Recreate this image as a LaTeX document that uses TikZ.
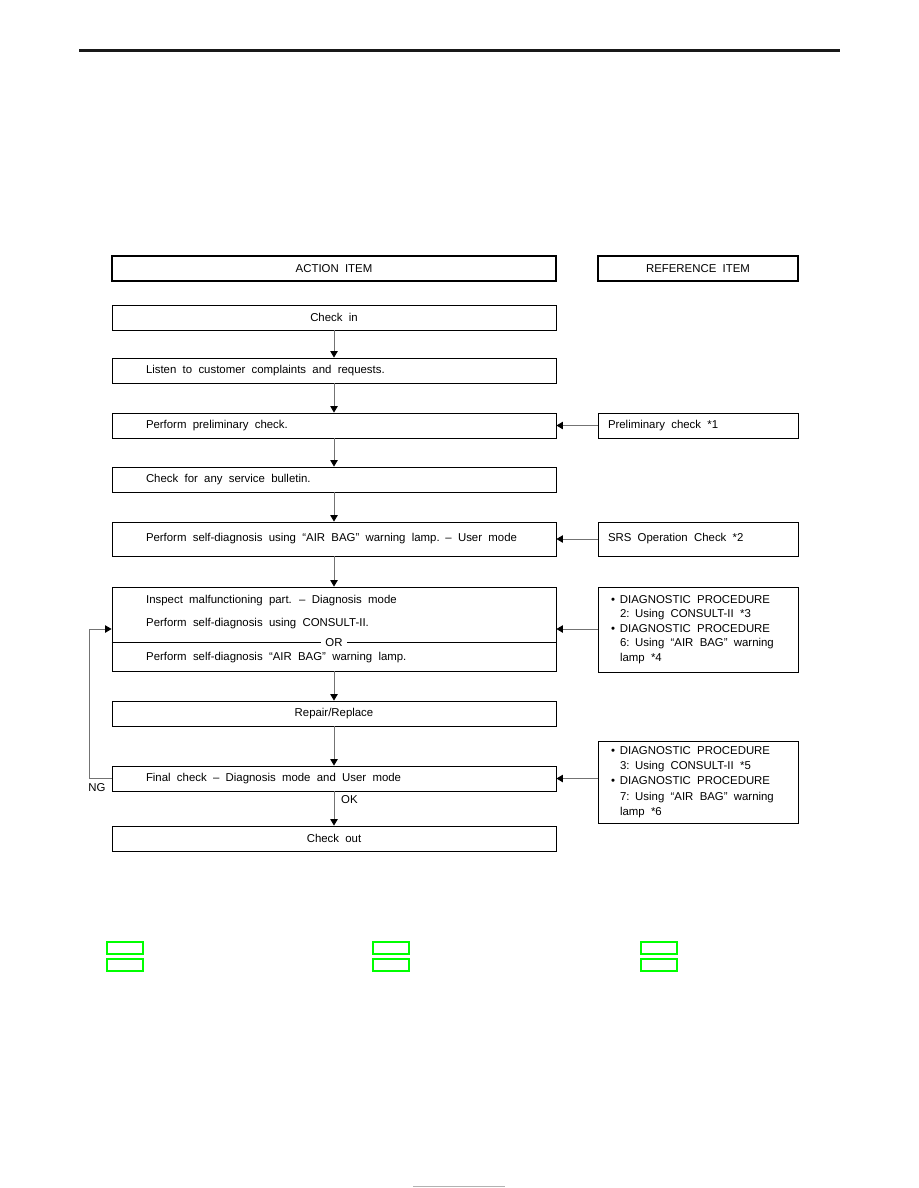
\documentclass[tikz,border=0pt]{standalone}
\usepackage{fontspec}
\setmainfont{Liberation Sans}
\usetikzlibrary{arrows.meta}
\newcommand{\wordgap}{\spaceskip=6.3pt plus 1pt minus 1pt\relax}
\newcommand{\refdot}{\hspace*{3pt}\textbullet\hspace{5pt}}
\tikzset{
  act/.style={draw, line width=0.9pt, minimum width=444pt, minimum height=25pt, inner sep=0pt, font=\fontsize{11.4}{13}\selectfont, execute at begin node=\wordgap},
  actleft/.style={act, align=left, text width=376pt, inner xsep=34pt},
  head/.style={act, line width=1.6pt, minimum width=444pt},
  refbox/.style={draw, line width=0.9pt, minimum width=200pt, minimum height=25pt, inner ysep=0pt, inner xsep=10pt, text width=180pt, align=left, font=\fontsize{11.4}{14.4}\selectfont, execute at begin node=\wordgap},
  flow/.style={draw=black!55, line width=0.9pt, -{Triangle[length=6.5pt,width=7.5pt,color=black]}},
  tag/.style={font=\fontsize{11.4}{13}\selectfont, inner sep=1pt, execute at begin node=\wordgap},
  lampbox/.style={draw=green, line width=1.4pt}
}
\begin{document}
\begin{tikzpicture}[x=1pt, y=-1pt]
\useasboundingbox (0,0) rectangle (918,1188);
\draw[line width=3pt, black!90] (79,51) -- (840,51);

% headings
\node[head] (acthead) at (334,268.5) {ACTION ITEM};
\node[head, minimum width=200pt] (refhead) at (698,268.5) {REFERENCE ITEM};

% action items
\node[act] (checkin) at (334,317.5) {Check in};
\node[actleft] (listen) at (334,370.5) {Listen to customer complaints and requests.};
\node[actleft] (prelim) at (334,425.5) {Perform preliminary check.};
\node[actleft] (bulletin) at (334,479.5) {Check for any service bulletin.};
\node[actleft, minimum height=34pt] (usermode) at (334,539) {Perform self-diagnosis using “AIR BAG” warning lamp. – User mode};
\node[act, minimum height=84pt] (inspect) at (334,629) {};
\node[tag, anchor=west] (inspecttxt) at (145,601) {Inspect malfunctioning part. – Diagnosis mode};
\node[tag, anchor=west] (consulttxt) at (145,624) {Perform self-diagnosis using CONSULT-II.};
\node[tag, anchor=west] (lamptxt) at (145,658) {Perform self-diagnosis “AIR BAG” warning lamp.};
\draw[line width=0.6pt] (inspect.west |- 0,642) -- (inspect.east |- 0,642);
\node[tag, fill=white, inner xsep=4pt] (ortxt) at (334,642.5) {OR};
\node[act] (repair) at (334,713.5) {Repair/Replace};
\node[actleft] (final) at (334,778.5) {Final check – Diagnosis mode and User mode};
\node[act] (checkout) at (334,838.5) {Check out};

% reference items
\node[refbox] (prelimref) at (698,425.5) {Preliminary check *1};
\node[refbox, minimum height=34pt] (srsref) at (698,539) {SRS Operation Check *2};
\node[refbox, minimum height=85pt] (diagref) at (698,629.5) {\refdot DIAGNOSTIC PROCEDURE\\\hspace*{12pt}2: Using CONSULT-II *3\\\refdot DIAGNOSTIC PROCEDURE\\\hspace*{12pt}6: Using “AIR BAG” warning\\\hspace*{12pt}lamp *4};
\node[refbox, minimum height=82pt, font=\fontsize{11.4}{15.4}\selectfont] (finalref) at (698,782) {\refdot DIAGNOSTIC PROCEDURE\\\hspace*{12pt}3: Using CONSULT-II *5\\\refdot DIAGNOSTIC PROCEDURE\\\hspace*{12pt}7: Using “AIR BAG” warning\\\hspace*{12pt}lamp *6};

% flow down
\foreach \a/\b in {checkin/listen, listen/prelim, prelim/bulletin, bulletin/usermode, usermode/inspect, inspect/repair, repair/final, final/checkout} {
  \draw[flow] (\a.south) -- (\b.north);
}
% references into actions
\draw[flow] (prelimref.west) -- (prelim.east);
\draw[flow] (srsref.west) -- (usermode.east);
\draw[flow] (diagref.west |- inspect.east) -- (inspect.east);
\draw[flow] (finalref.west |- final.east) -- (final.east);

% NG loop
\draw[flow] (final.west) -- ++(-22,0) |- (inspect.west);
\node[tag] (ng) at (97,788) {NG};
\node[tag, anchor=west] (ok) at (340,800) {OK};

% lamp boxes
\foreach \x in {107,373,641} {
  \draw[lampbox] (\x,942) rectangle ++(36,12);
  \draw[lampbox] (\x,959) rectangle ++(36,12);
}
\draw[black!30, line width=1pt] (413,1186) -- (505,1186);
\end{tikzpicture}
\end{document}
